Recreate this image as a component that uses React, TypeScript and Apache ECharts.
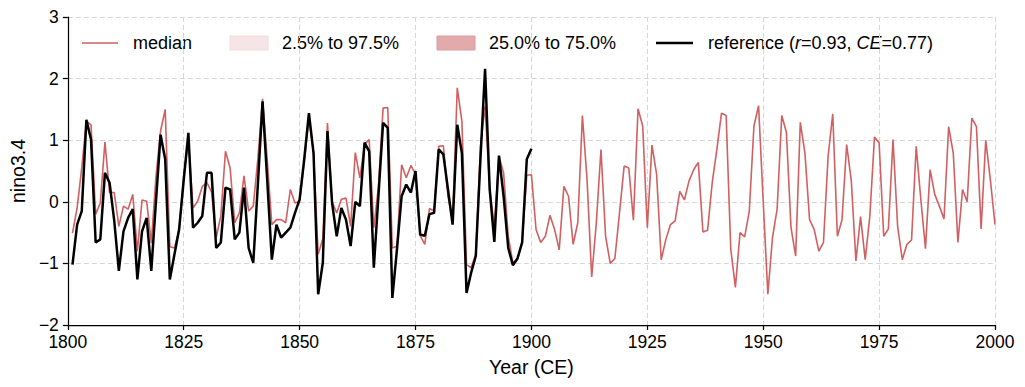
import React, { useEffect, useRef } from "react";
import * as echarts from "echarts";

const years: number[] = [];
for (let y = 1801; y <= 2000; y++) years.push(y);

const medianValues = [
  -0.51, -0.1, 0.55, 1.31, 1.25, -0.2, -0.02, 0.97, 0.15, 0.15,
  -0.4, -0.07, -0.12, 0.12, -0.8, 0.03, 0.01, -0.67, 0.4, 1.15,
  1.5, -0.73, -0.75, -0.45, 0.42, 1.01, -0.1, 0.01, 0.25, 0.31,
  0.16, -0.58, -0.23, 0.82, 0.55, -0.34, -0.18, 0.42, -0.15, -0.07,
  0.71, 1.67, 0.69, -0.37, -0.29, -0.29, -0.34, 0.2, -0.02, 0.01,
  0.65, 1.35, 0.8, -0.85, -0.6, 1.28, 0.0, -0.18, 0.04, 0.06,
  -0.4, 0.8, 0.39, 0.93, 1.01, -0.42, 0.25, 1.52, 1.53, -0.75,
  -0.72, 0.6, 0.39, 0.59, 0.45, -0.55, -0.69, -0.11, -0.15, 0.9,
  0.91, 0.09, -0.3, 1.85, 1.31, -1.02, -1.07, -0.85, 0.9, 1.55,
  0.2, -0.4, 0.74, 0.47, -0.56, -0.99, -0.92, -0.66, 0.43, 0.44,
  -0.45, -0.66, -0.56, -0.22, -0.45, -0.78, 0.25, 0.09, -0.69, -0.34,
  1.4, 0.36, -1.22, -0.34, 0.85, -0.56, -1.0, -0.92, -0.18, 0.58,
  0.55, -0.3, 1.51, 1.23, -0.42, 0.92, 0.45, -0.94, -0.61, -0.37,
  -0.31, 0.17, 0.03, 0.34, 0.52, 0.64, -0.49, -0.46, 0.31, 0.85,
  1.44, 1.4, -0.77, -1.39, -0.5, -0.57, -0.15, 1.23, 1.56, 0.0,
  -1.5, -0.58, -0.12, 1.4, 1.13, -0.42, -0.88, 1.29, 0.79, -0.29,
  -0.45, -0.8, -0.66, 0.74, 1.43, -0.56, -0.29, 0.93, 0.34, -0.96,
  -0.24, -0.94, -0.23, 1.05, 0.96, -0.56, -0.44, 1.01, -0.4, -0.94,
  -0.69, -0.62, 0.9, 0.04, -0.76, 0.52, 0.12, -0.07, -0.28, 1.22,
  0.79, -0.66, 0.2, 0.0, 1.36, 1.22, -0.44, 1.0, 0.36, -0.37,
];

const referenceValues = [
  -1.02, -0.37, -0.15, 1.33, 1.01, -0.66, -0.61, 0.47, 0.31, -0.3,
  -1.12, -0.48, -0.26, -0.12, -1.26, -0.48, -0.26, -1.12, 0.0, 1.09,
  0.69, -1.26, -0.85, -0.45, 0.36, 1.12, -0.42, -0.34, -0.23, 0.47,
  0.47, -0.75, -0.66, 0.23, 0.2, -0.61, -0.5, 0.23, -0.75, -0.99,
  0.3, 1.63, 0.36, -0.94, -0.37, -0.58, -0.5, -0.42, -0.18, 0.04,
  0.7, 1.44, 0.79, -1.5, -0.99, 1.15, -0.02, -0.56, -0.1, -0.29,
  -0.72, 0.0, -0.07, 0.96, 0.82, -1.07, 0.1, 1.28, 1.2, -1.56,
  -0.77, 0.09, 0.28, 0.15, 0.5, -0.53, -0.55, -0.2, -0.18, 0.85,
  0.77, 0.2, -0.37, 1.25, 0.79, -1.48, -1.15, -0.88, 0.69, 2.16,
  0.2, -0.65, 0.75, 0.09, -0.75, -1.03, -0.92, -0.66, 0.69, 0.86,
];

const xTicks = { min: 1800, max: 2000, interval: 25 };
const yTicks = { min: -2, max: 3, interval: 1 };

const legendLabels = ["median", "2.5% to 97.5%", "25.0% to 75.0%"];

const RED = "#d06062";
const FONT = "'Liberation Sans', Arial, Helvetica, sans-serif";
const LF = 18;

export default function App() {
  const ref = useRef<HTMLDivElement>(null);
  useEffect(() => {
    if (!ref.current) return;
    const chart = echarts.init(ref.current, undefined, { renderer: "svg" });
    const medianData = years.map((y, i) => [y, medianValues[i]]);
    const refData = referenceValues.map((v, i) => [years[i], v]);
    const gridLine = { show: true, lineStyle: { color: "#d6d6d6", type: [5, 3], width: 1 } };
    chart.setOption({
      animation: false,
      textStyle: { fontFamily: FONT },
      grid: { left: 65.5, right: 30, top: 17, bottom: 62, containLabel: false },
      xAxis: {
        type: "value",
        min: xTicks.min,
        max: xTicks.max,
        interval: xTicks.interval,
        name: "Year (CE)",
        nameLocation: "middle",
        nameGap: 32,
        nameTextStyle: { fontSize: 19.5, color: "#000", fontFamily: FONT },
        axisLine: { show: true, onZero: false, lineStyle: { color: "#000", width: 1.25 } },
        axisTick: { show: true, inside: false, length: 5, lineStyle: { color: "#000", width: 1.25 } },
        axisLabel: {
          fontSize: 17.5,
          color: "#000",
          margin: 8,
          fontFamily: FONT,
          formatter: (v: number) => String(v),
        },
        splitLine: gridLine,
      },
      yAxis: {
        type: "value",
        min: yTicks.min,
        max: yTicks.max,
        interval: yTicks.interval,
        name: "nino3.4",
        nameLocation: "middle",
        nameRotate: 90,
        nameGap: 31,
        nameTextStyle: { fontSize: 19.5, color: "#000", fontFamily: FONT },
        axisLine: { show: true, onZero: false, lineStyle: { color: "#000", width: 1.25 } },
        axisTick: { show: true, inside: false, length: 5, lineStyle: { color: "#000", width: 1.25 } },
        axisLabel: {
          fontSize: 17.5,
          color: "#000",
          margin: 9,
          fontFamily: FONT,
          formatter: (v: number) => String(v).replace("-", "\u2212"),
        },
        splitLine: gridLine,
      },
      series: [
        {
          name: "median",
          type: "line",
          data: medianData,
          showSymbol: false,
          lineStyle: { color: RED, width: 1.6 },
          itemStyle: { color: RED },
          z: 2,
        },
        {
          name: "reference",
          type: "line",
          data: refData,
          showSymbol: false,
          lineStyle: { color: "#000", width: 2.5 },
          itemStyle: { color: "#000" },
          z: 3,
        },
      ],
      graphic: [
        { type: "line", shape: { x1: 82, y1: 43, x2: 118, y2: 43 }, style: { stroke: RED, lineWidth: 1.6 } },
        { type: "text", x: 133, y: 43, style: { text: legendLabels[0], fontSize: LF, fontFamily: FONT, fill: "#000", verticalAlign: "middle" } },
        { type: "rect", shape: { x: 230, y: 36, width: 38, height: 14 }, style: { fill: "#f6e5e6", stroke: "#f3dcdd", lineWidth: 1 } },
        { type: "text", x: 282, y: 43, style: { text: legendLabels[1], fontSize: LF, fontFamily: FONT, fill: "#000", verticalAlign: "middle" } },
        { type: "rect", shape: { x: 437, y: 36, width: 38, height: 14 }, style: { fill: "#e3aaab", stroke: "#dd9c9d", lineWidth: 1 } },
        { type: "text", x: 489, y: 43, style: { text: legendLabels[2], fontSize: LF, fontFamily: FONT, fill: "#000", verticalAlign: "middle" } },
        { type: "line", shape: { x1: 656, y1: 43, x2: 693, y2: 43 }, style: { stroke: "#000", lineWidth: 2.5 } },
        {
          type: "text",
          x: 708,
          y: 43,
          style: {
            text: "{n|reference (}{i|r}{n|=0.93, }{i|CE}{n|=0.77)}",
            fontSize: LF,
            fontFamily: FONT,
            fill: "#000",
            verticalAlign: "middle",
            rich: {
              n: { fontSize: LF, fontFamily: FONT, fill: "#000" },
              i: { fontSize: LF, fontFamily: FONT, fill: "#000", fontStyle: "italic" },
            },
          },
        },
      ],
    });
    return () => chart.dispose();
  }, []);
  return (
    <div
      ref={ref}
      style={{ position: "fixed", left: 0, top: 0, width: 1025, height: 387, background: "#fff" }}
    />
  );
}
